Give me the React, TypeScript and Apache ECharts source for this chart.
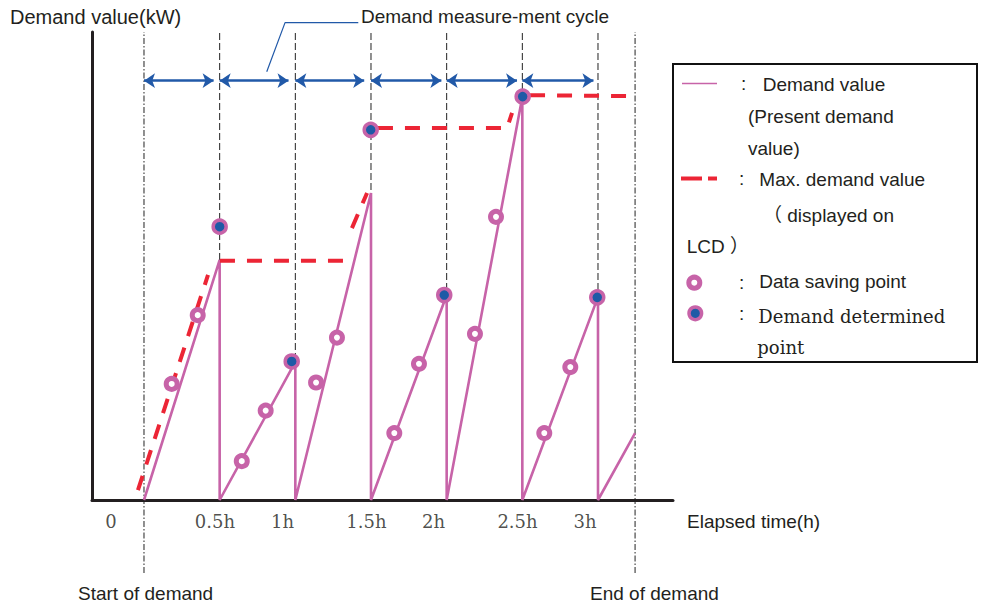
import React, { useEffect, useRef } from "react";
import * as echarts from "echarts";

// ---- data (x in hours from start of demand, y in % of chart height) ----
const cycleBounds = [0.5, 1, 1.5, 2, 2.5, 3];
const demandStartX = 0;
const demandEndX = 3.245;
const demandLine: [number, number][] = [
  [0, 0], [0.5, 51.3], [0.5, 0], [1, 29.5], [1, 0], [1.5, 65.6], [1.5, 0],
  [2, 43.8], [2, 0], [2.5, 86.1], [2.5, 0], [3, 43.4], [3, 0], [3.245, 14.3],
];
const savingPoints: [number, number][] = [
  [0.183, 24.8], [0.355, 39.5], [0.646, 8.3], [0.804, 19.1], [1.137, 25.1], [1.275, 34.7],
  [1.654, 14.3], [1.817, 29.1], [2.187, 35.5], [2.326, 60.5], [2.645, 14.3], [2.817, 28.4],
];
const determinedPoints: [number, number][] = [
  [0.5, 58.4], [0.976, 29.6], [1.498, 79.1], [1.984, 43.8], [2.502, 86.2], [2.995, 43.3],
];
const maxDemandSegments: [number, number][][] = [
  [[-0.04, 2.1], [0.423, 48.1]],
  [[0.502, 51.1], [1.361, 51.1]],
  [[1.374, 58.1], [1.474, 65.6]],
  [[1.546, 79.5], [2.399, 79.5], [2.432, 82.7]],
  [[2.551, 86.5], [3.258, 86.3]],
];
const arrowStarts = [0, 0.5, 1, 1.5, 2, 2.5];
const arrowEnds = [0.46, 0.955, 1.455, 1.965, 2.465, 2.97];
const arrowLevel = 89.6;
const calloutLine: [number, number][] = [[0.811, 91.5], [0.932, 102], [1.416, 102]];
const tickLabels = ["0", "0.5h", "1h", "1.5h", "2h", "2.5h", "3h"];
const tickLabelX = [-0.218, 0.469, 0.915, 1.47, 1.913, 2.468, 2.914];
const tickLabelY = -4.5;
const guideBottomY = -15.6;

const TEXT = "#231f20";
const PINK = "#c763a8";
const DOT_BLUE = "#1e5aa6";
const RED = "#ec2535";
const ARROW_BLUE = "#2159a8";
const SANS = "'Liberation Sans', Arial, sans-serif";
const SERIF = "'DejaVu Serif', serif";

function txt(text: string, x: number, y: number, size = 19, family = SANS, align = "left") {
  return {
    type: "text",
    x,
    y,
    style: {
      text,
      fill: TEXT,
      font: `${size}px ${family}`,
      textAlign: align,
      textVerticalAlign: "middle",
    },
  };
}

export default function App() {
  const ref = useRef<HTMLDivElement>(null);
  useEffect(() => {
    document.body.style.margin = "0";
    if (!ref.current) return;
    const chart = echarts.init(ref.current, undefined, { renderer: "svg" });

    const series: any[] = [];
    cycleBounds.forEach((b) => {
      series.push({
        type: "line",
        data: [[b, 0], [b, 100]],
        symbol: "none",
        silent: true,
        lineStyle: { color: "#222", width: 1, type: [7, 3] },
        z: 1,
      });
    });
    [demandStartX, demandEndX].forEach((b) => {
      series.push({
        type: "line",
        data: [[b, guideBottomY], [b, 100]],
        symbol: "none",
        clip: false,
        silent: true,
        lineStyle: { color: "#222", width: 1, type: [6, 2, 1.5, 2] },
        z: 1,
      });
    });
    series.push({
      type: "line",
      data: demandLine,
      symbol: "none",
      lineStyle: { color: PINK, width: 2.6 },
      z: 3,
    });
    maxDemandSegments.forEach((seg) => {
      series.push({
        type: "line",
        data: seg,
        symbol: "none",
        clip: false,
        lineStyle: { color: RED, width: 4, type: [15, 12] },
        z: 4,
      });
    });
    series.push({
      type: "lines",
      coordinateSystem: "cartesian2d",
      symbol: ["arrow", "arrow"],
      symbolSize: 11,
      clip: false,
      lineStyle: { color: ARROW_BLUE, width: 2.6, opacity: 1 },
      data: arrowStarts.map((s, i) => ({ coords: [[s, arrowLevel], [arrowEnds[i], arrowLevel]] })),
      z: 4,
    });
    series.push({
      type: "line",
      data: calloutLine,
      symbol: "none",
      clip: false,
      lineStyle: { color: ARROW_BLUE, width: 1.2 },
      z: 4,
    });
    series.push({
      type: "scatter",
      data: savingPoints,
      symbol: "circle",
      symbolSize: 11,
      itemStyle: { color: "#ffffff", borderColor: PINK, borderWidth: 5, opacity: 1 },
      z: 5,
    });
    series.push({
      type: "scatter",
      data: determinedPoints,
      symbol: "circle",
      symbolSize: 13,
      itemStyle: { color: DOT_BLUE, borderColor: PINK, borderWidth: 3.5, opacity: 1 },
      z: 6,
    });
    series.push({
      type: "scatter",
      data: tickLabelX.map((x) => [x, tickLabelY]),
      symbolSize: 1,
      clip: false,
      itemStyle: { color: "rgba(0,0,0,0)" },
      label: {
        show: true,
        position: "inside",
        formatter: (p: any) => tickLabels[p.dataIndex],
        color: TEXT,
        fontFamily: SERIF,
        fontSize: 18,
      },
      z: 6,
    });

    const legend: any[] = [
      {
        type: "rect",
        shape: { x: 673, y: 64, width: 304, height: 298 },
        style: { fill: "#fff", stroke: "#111", lineWidth: 2 },
      },
      { type: "line", shape: { x1: 682, y1: 83.5, x2: 717, y2: 83.5 }, style: { stroke: PINK, lineWidth: 1.5 } },
      txt(":", 741, 83),
      txt("Demand value", 762.7, 84),
      txt("(Present demand", 748, 116),
      txt("value)", 748, 148),
      { type: "line", shape: { x1: 681, y1: 178.5, x2: 702, y2: 178.5 }, style: { stroke: RED, lineWidth: 4 } },
      { type: "line", shape: { x1: 708, y1: 178.5, x2: 717, y2: 178.5 }, style: { stroke: RED, lineWidth: 4 } },
      txt(":", 739, 178),
      txt("Max. demand value", 759.3, 179),
      txt("（ displayed on", 763, 215, 19, `${SANS}, 'Noto Sans CJK JP'`),
      txt("LCD ）", 686.7, 246, 19, `${SANS}, 'Noto Sans CJK JP'`),
      {
        type: "circle",
        shape: { cx: 694.3, cy: 282.7, r: 5.5 },
        style: { fill: "#fff", stroke: PINK, lineWidth: 5 },
      },
      txt(":", 739, 282),
      txt("Data saving point", 759.3, 281),
      {
        type: "circle",
        shape: { cx: 695.3, cy: 313.3, r: 6.3 },
        style: { fill: DOT_BLUE, stroke: PINK, lineWidth: 3.5 },
      },
      txt(":", 739, 313),
      txt("Demand determined", 758.3, 316.7, 18, SERIF),
      txt("point", 757.3, 347.3, 18, SERIF),
    ];

    chart.setOption({
      animation: false,
      grid: { left: 92, right: 313, top: 32, bottom: 105 },
      xAxis: {
        type: "value",
        min: -0.3436,
        max: 3.4956,
        axisLine: { show: true, onZero: false, lineStyle: { color: "#231f20", width: 3 } },
        axisTick: { show: false },
        axisLabel: { show: false },
        splitLine: { show: false },
      },
      yAxis: {
        type: "value",
        min: 0,
        max: 100,
        axisLine: { show: true, onZero: false, lineStyle: { color: "#231f20", width: 3 } },
        axisTick: { show: false },
        axisLabel: { show: false },
        splitLine: { show: false },
      },
      graphic: [
        txt("Demand value(kW)", 10, 17, 20),
        txt("Demand measure-ment cycle", 361, 16, 19),
        txt("Elapsed time(h)", 687, 521, 19),
        txt("Start of demand", 78, 593, 19),
        txt("End of demand", 590, 593, 19),
        ...legend,
      ],
      series,
    });
    return () => chart.dispose();
  }, []);
  return <div ref={ref} style={{ width: 986, height: 605 }} />;
}
